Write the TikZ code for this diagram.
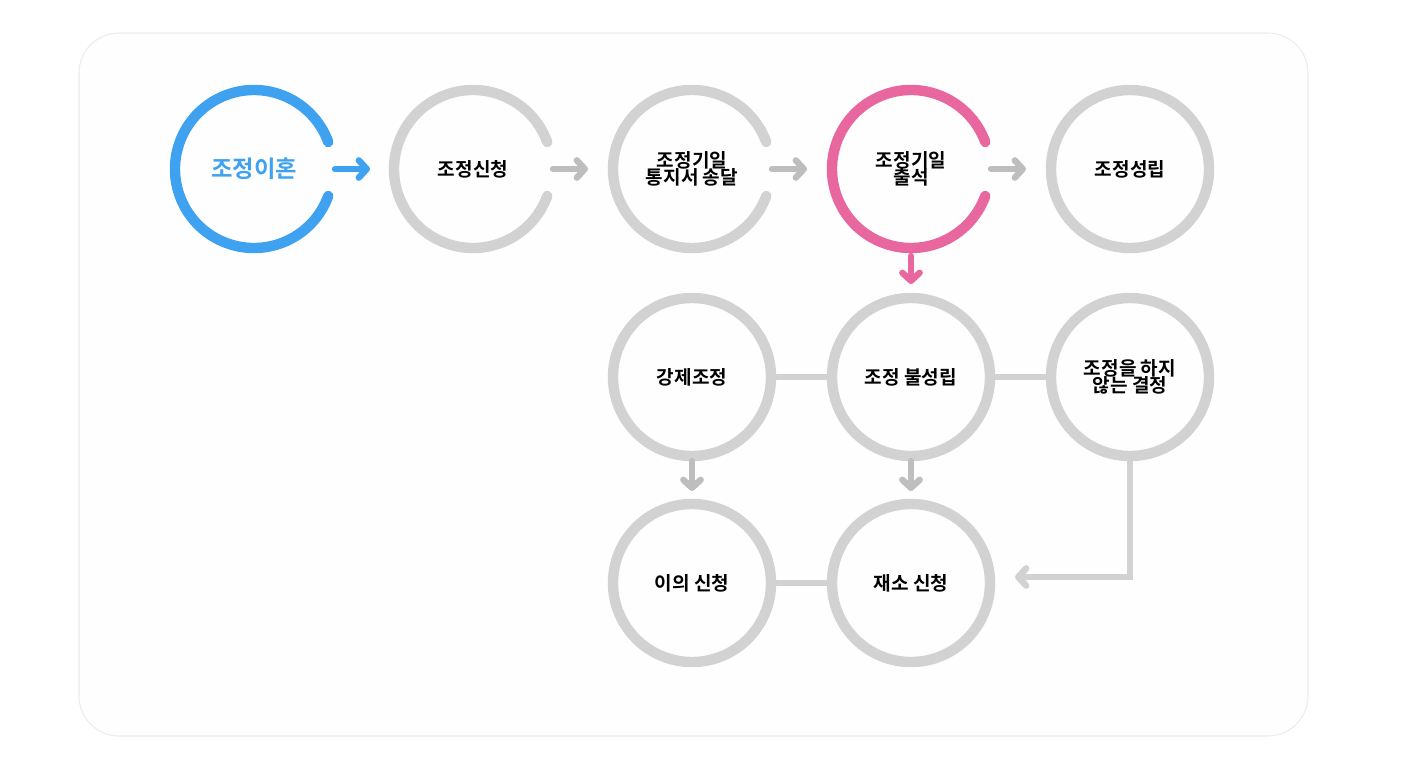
\documentclass[tikz,border=0pt]{standalone}
\usepackage{fontspec}
\setmainfont{Noto Sans CJK KR}[BoldFont={* Bold}]
\usetikzlibrary{arrows.meta}
\definecolor{cg}{HTML}{D2D2D2}
\definecolor{ag}{HTML}{BEBEBE}
\definecolor{cb}{HTML}{3FA2F0}
\definecolor{cp}{HTML}{E8679F}
\begin{document}
\begin{tikzpicture}[x=0.75pt,y=-0.75pt,
  ring/.style={line width=7.8pt,cg},
  lbl/.style={font=\bfseries\fontsize{14.3}{17}\selectfont,align=center,text=black},
  arr/.style={line width=4.8pt,ag,line cap=round,-{Straight Barb[length=6pt,width=13pt,line cap=round,round]}},
  conn/.style={line width=4.5pt,cg}]
\useasboundingbox (0,0) rectangle (1403,775);
\fill[white] (0,0) rectangle (1403,775);
\draw[fill={rgb,255:red,254;green,254;blue,254},draw={rgb,255:red,236;green,236;blue,236},rounded corners=30pt,line width=0.8pt] (79,33) rectangle (1308,736);
% row 1
\draw[ring,cb,line cap=round] (254,169) ++(20:79) arc[start angle=20,end angle=340,radius=79];
\draw[ring,line cap=round] (473,169) ++(20:79) arc[start angle=20,end angle=340,radius=79];
\draw[ring,line cap=round] (692,169) ++(20:79) arc[start angle=20,end angle=340,radius=79];
\draw[ring,cp,line cap=round] (911,169) ++(20:79) arc[start angle=20,end angle=340,radius=79];
\draw[ring] (1130,169) circle[radius=79];
\node[lbl,text=cb,font=\bfseries\fontsize{17.5}{20}\selectfont] (n1) at (254,169) {조정이혼};
\node[lbl] (n2) at (473,169) {조정신청};
\node[lbl] (n3) at (692,169) {조정기일\\[-4pt]통지서 송달};
\node[lbl] (n4) at (911,169) {조정기일\\[-4pt]출석};
\node[lbl] (n5) at (1130,169) {조정성립};
% row 2/3
\foreach \x/\y in {692/377,911/377,1130/377,692/583,911/583}{\draw[ring] (\x,\y) circle[radius=79];}
\node[lbl] (m1) at (692,377) {강제조정};
\node[lbl] (m2) at (911,377) {조정 불성립};
\node[lbl] (m3) at (1130,377) {조정을 하지\\[-4pt]않는 결정};
\node[lbl] (b1) at (692,583) {이의 신청};
\node[lbl] (b2) at (911,583) {재소 신청};
% coordinates
\coordinate (a1s) at (335,169); \coordinate (a1e) at (370,169);
\coordinate (a2s) at (553,169); \coordinate (a2e) at (588,169);
\coordinate (a3s) at (772,169); \coordinate (a3e) at (807,169);
\coordinate (a4s) at (991,169); \coordinate (a4e) at (1026,169);
\coordinate (pd1) at (911,256); \coordinate (pd2) at (911,284);
\coordinate (g1s) at (692,461); \coordinate (g1e) at (692,491);
\coordinate (g2s) at (911,461); \coordinate (g2e) at (911,491);
\coordinate (r1) at (1130,460); \coordinate (r2) at (1130,577); \coordinate (r3) at (1015,577);
\draw[arr,cb] (a1s) -- (a1e);
\draw[arr] (a2s) -- (a2e);
\draw[arr] (a3s) -- (a3e);
\draw[arr] (a4s) -- (a4e);
\draw[arr,cp] (pd1) -- (pd2);
\draw[conn] (775,377) -- (828,377);
\draw[conn] (994,377) -- (1047,377);
\draw[conn] (775,583) -- (828,583);
\draw[arr] (g1s) -- (g1e);
\draw[arr] (g2s) -- (g2e);
\draw[arr,cg,line cap=butt] (r1) -- (r2) -- (r3);
\end{tikzpicture}
\end{document}
